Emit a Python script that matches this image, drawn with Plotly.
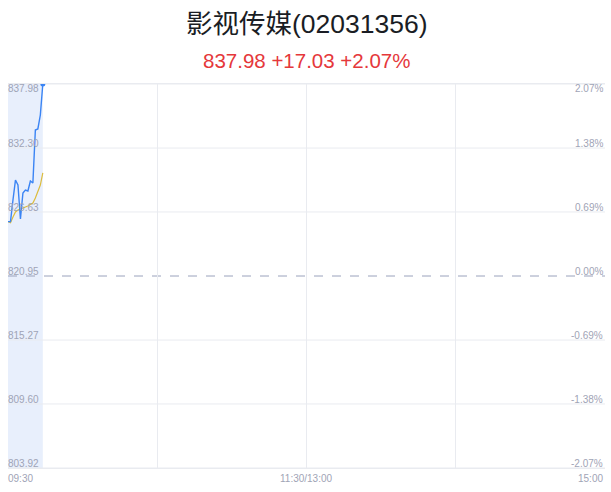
import plotly.graph_objects as go

# 分时数据 (09:30 起，每分钟一个点)
times = ["09:30", "09:31", "09:32", "09:33", "09:34", "09:35", "09:36", "09:37",
         "09:38", "09:39", "09:40", "09:41", "09:42", "09:43", "09:44"]
price = [825.77, 825.77, 827.69, 829.46, 829.02, 826.01, 828.31, 828.58,
         828.49, 829.38, 829.20, 833.90, 833.99, 835.23, 837.98]
avg_price = [825.77, 825.68, 826.18, 826.63, 826.80, 826.89, 826.95, 827.03,
             827.16, 827.29, 827.42, 827.87, 828.40, 829.02, 830.09]

prev_close = 820.95
y_ticks = [837.98, 832.30, 826.63, 820.95, 815.27, 809.60, 803.92]
pct_ticks = ["2.07%", "1.38%", "0.69%", "0.00%", "-0.69%", "-1.38%", "-2.07%"]
x_labels = ["09:30", "11:30/13:00", "15:00"]

TOTAL_MIN = 240
minutes = list(range(len(times)))

grey = "#9fa4b6"
grid = "#e9ebf0"
sans = "Liberation Sans, Noto Sans CJK SC, sans-serif"

fig = go.Figure()

# elapsed-time shading
fig.add_shape(type="rect", xref="x", yref="paper", x0=0, x1=minutes[-1], y0=0, y1=1,
              fillcolor="#e8effc", line_width=0, layer="below")

# horizontal grid (dashed at prev close)
for v in y_ticks:
    fig.add_shape(type="line", xref="paper", yref="y", x0=0, x1=1, y0=v, y1=v,
                  line=dict(color="#9aa2bc" if v == prev_close else grid, width=1,
                            dash="dash" if v == prev_close else "solid"),
                  layer="below")

fig.add_trace(go.Scatter(x=minutes, y=avg_price, mode="lines",
                         line=dict(color="#dcbc3c", width=1.2), hoverinfo="skip"))
fig.add_trace(go.Scatter(x=minutes, y=price, mode="lines",
                         line=dict(color="#3a84f4", width=1.4), hoverinfo="skip"))
fig.add_trace(go.Scatter(x=[minutes[-1]], y=[price[-1]], mode="markers",
                         marker=dict(color="#3a84f4", size=5), hoverinfo="skip"))

# value / percent labels inside the plot
for i, (v, p) in enumerate(zip(y_ticks, pct_ticks)):
    anchor = "middle" if i == 0 else "bottom"
    dy = -4 if i == 0 else -2
    fig.add_annotation(x=0, xref="paper", y=v, yref="y", text=f"{v:.2f}", showarrow=False,
                       xanchor="left", yanchor=anchor, yshift=dy, xshift=-1, borderpad=0,
                       font=dict(size=10, color=grey, family=sans))
    fig.add_annotation(x=1, xref="paper", y=v, yref="y", text=p, showarrow=False,
                       xanchor="right", yanchor=anchor, yshift=dy, xshift=-1, borderpad=0,
                       font=dict(size=10, color=grey, family=sans))

for lbl, xp, anc, dx in zip(x_labels, [0, 0.5, 1], ["left", "center", "right"], [-1, 0, -1]):
    fig.add_annotation(x=xp, xref="paper", y=0, yref="paper", yshift=-10, xshift=dx,
                       text=lbl, showarrow=False, xanchor=anc, yanchor="middle",
                       borderpad=0, font=dict(size=10, color=grey, family=sans))

# title + quote line
fig.add_annotation(x=0.5, xref="paper", y=1, yref="paper", yshift=60, yanchor="middle",
                   text="影视传媒(02031356)", showarrow=False,
                   font=dict(size=26.5, color="#1a1d24", family=sans))
fig.add_annotation(x=0.5, xref="paper", y=1, yref="paper", yshift=24, yanchor="middle",
                   text="837.98 +17.03 +2.07%", showarrow=False,
                   font=dict(size=20.5, color="#e5383b", family=sans))

fig.update_layout(
    width=611, height=492,
    margin=dict(l=8, r=6, t=84, b=24),
    paper_bgcolor="white", plot_bgcolor="white",
    showlegend=False,
    font=dict(family=sans),
    xaxis=dict(range=[0, TOTAL_MIN], tickvals=[0, 60, 120, 180, 240], showticklabels=False,
               showgrid=True, gridcolor=grid, zeroline=False, showline=True,
               linecolor=grid, mirror=True, fixedrange=True),
    yaxis=dict(range=[y_ticks[-1], y_ticks[0]], showticklabels=False, showgrid=False,
               zeroline=False, fixedrange=True),
)

fig.write_html("out.html", config={"displayModeBar": False},
               post_script="document.body.style.margin='0';")
